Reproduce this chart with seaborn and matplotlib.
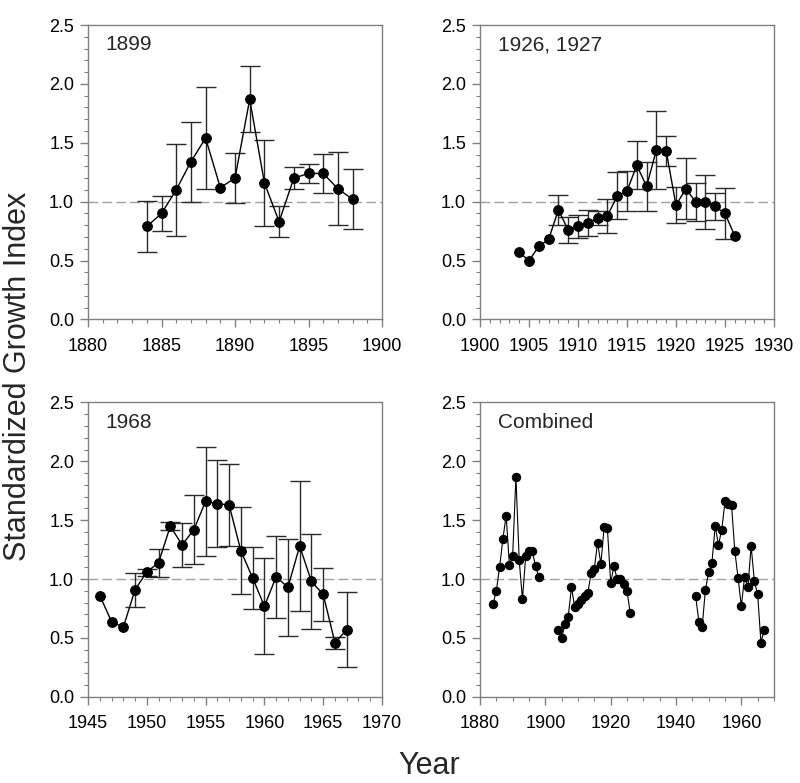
import numpy as np
import pandas as pd
import seaborn as sns
import matplotlib
matplotlib.use("Agg")
import matplotlib.pyplot as plt
from matplotlib.ticker import MultipleLocator

# ---- data ----
years_1899 = list(range(1884, 1899))
index_1899 = [0.79, 0.90, 1.10, 1.34, 1.54, 1.12, 1.20, 1.87, 1.16, 0.83, 1.20, 1.24, 1.24, 1.11, 1.02]
err_1899 = [0.215, 0.145, 0.39, 0.34, 0.435, 0.0, 0.21, 0.28, 0.365, 0.13, 0.095, 0.078, 0.163, 0.31, 0.254]

years_1926 = list(range(1904, 1927))
index_1926 = [0.57, 0.50, 0.62, 0.68, 0.93, 0.76, 0.79, 0.82, 0.86, 0.88, 1.05, 1.09, 1.31, 1.13,
              1.44, 1.43, 0.97, 1.11, 1.00, 1.00, 0.96, 0.90, 0.71]
err_1926 = [0.0, 0.0, 0.0, 0.0, 0.127, 0.113, 0.094, 0.113, 0.06, 0.146, 0.2, 0.168, 0.203, 0.207,
            0.33, 0.126, 0.151, 0.26, 0.16, 0.228, 0.113, 0.216, 0.0]

years_1968 = list(range(1946, 1968))
index_1968 = [0.86, 0.64, 0.59, 0.91, 1.06, 1.14, 1.45, 1.29, 1.42, 1.66, 1.64, 1.63, 1.24, 1.01,
              0.77, 1.02, 0.93, 1.28, 0.98, 0.87, 0.46, 0.57]
err_1968 = [0.0, 0.0, 0.0, 0.145, 0.03, 0.118, 0.033, 0.185, 0.295, 0.465, 0.37, 0.35, 0.37, 0.263,
            0.41, 0.348, 0.41, 0.55, 0.405, 0.226, 0.05, 0.32]

labels = ["1899", "1926, 1927", "1968", "Combined"]

sns.set_style("ticks")
plt.rcParams['font.family'] = ['Liberation Sans', 'DejaVu Sans']

fig = plt.figure(figsize=(8, 7.83), dpi=100)
W, H = 0.3675, 0.376
positions = [(0.11, 0.592), (0.60, 0.592), (0.11, 0.110), (0.60, 0.110)]
axes = [fig.add_axes([x, y, W, H]) for x, y in positions]

frame_col = "#808080"
panels = [
    (years_1899, index_1899, err_1899, (1880, 1900), 5, 1),
    (years_1926, index_1926, err_1926, (1900, 1930), 5, 1),
    (years_1968, index_1968, err_1968, (1945, 1970), 5, 1),
]

for ax, (yrs, vals, errs, xl, major, minor), lab in zip(axes[:3], panels, labels[:3]):
    ax.axhline(1.0, color="#a0a0a0", lw=1, ls=(0, (7, 3)), zorder=1)
    e = np.array(errs)
    ax.errorbar(yrs, vals, yerr=np.where(e > 0, e, np.nan), fmt="none", ecolor="#2a2a2a",
                elinewidth=1.0, capsize=7, capthick=1.0, zorder=2)
    sns.lineplot(x=yrs, y=vals, ax=ax, color="black", lw=1.0, marker="o", markersize=7,
                 markeredgecolor="black", zorder=3)
    ax.set_xlim(*xl)
    ax.xaxis.set_major_locator(MultipleLocator(major))
    ax.xaxis.set_minor_locator(MultipleLocator(minor))
    ax.text(0.06, 0.965, lab, transform=ax.transAxes, fontsize=15, va="top", ha="left")

# combined panel
comb = pd.DataFrame({
    "year": years_1899 + years_1926 + years_1968,
    "index": index_1899 + index_1926 + index_1968,
    "period": ["1899"] * len(years_1899) + ["1926"] * len(years_1926) + ["1968"] * len(years_1968),
})
ax = axes[3]
ax.axhline(1.0, color="#a0a0a0", lw=1, ls=(0, (7, 3)), zorder=1)
sns.lineplot(data=comb, x="year", y="index", hue="period", palette=["black"] * 3, legend=False,
             ax=ax, lw=0.8, marker="o", markersize=6, markeredgecolor="black", zorder=3)
ax.set_xlim(1880, 1970)
ax.set_xticks([1880, 1900, 1920, 1940, 1960])
ax.xaxis.set_minor_locator(MultipleLocator(5))
ax.text(0.06, 0.965, labels[3], transform=ax.transAxes, fontsize=15, va="top", ha="left")

for ax in axes:
    ax.set_ylim(0, 2.5)
    ax.yaxis.set_major_locator(MultipleLocator(0.5))
    ax.yaxis.set_minor_locator(MultipleLocator(0.1))
    ax.yaxis.set_major_formatter(matplotlib.ticker.FormatStrFormatter("%.1f"))
    ax.set_xlabel("")
    ax.set_ylabel("")
    for s in ax.spines.values():
        s.set_visible(True)
        s.set_color(frame_col)
        s.set_linewidth(1.0)
    ax.tick_params(which="major", direction="out", length=6, width=1, color=frame_col,
                   labelsize=13, labelcolor="black", pad=4)
    ax.tick_params(which="minor", direction="out", length=3, width=0.8, color=frame_col)
    ax.tick_params(axis="x", which="major", pad=7)

fig.text(0.023, 0.519, "Standardized Growth Index", rotation=90, fontsize=22, ha="center", va="center")
fig.text(0.537, 0.002, "Year", fontsize=22, ha="center", va="bottom")

fig.savefig("out.png", dpi=100)
